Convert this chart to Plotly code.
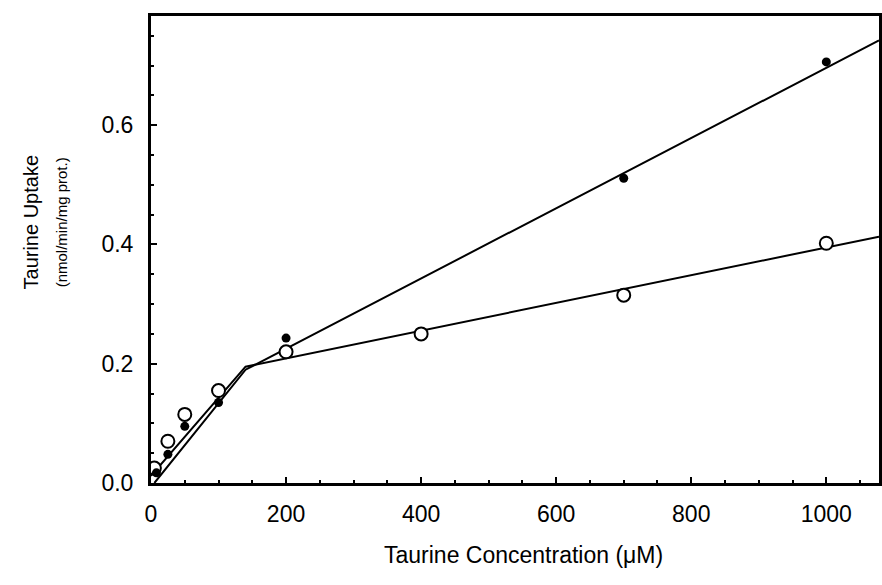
import plotly.graph_objects as go

# Data
open_x = [5, 25, 50, 100, 200, 400, 700, 1000]
open_y = [0.025, 0.070, 0.115, 0.155, 0.220, 0.250, 0.315, 0.402]
closed_x = [8, 25, 50, 100, 200, 700, 1000]
closed_y = [0.017, 0.048, 0.095, 0.135, 0.243, 0.511, 0.706]

# fitted lines (breakpoint then linear)
fit_open_x = [0, 140, 1078]
fit_open_y = [0.012, 0.195, 0.413]
fit_closed_x = [5, 140, 1078]
fit_closed_y = [0.0, 0.190, 0.742]

x_ticks = [0, 200, 400, 600, 800, 1000]
y_ticks = [0.0, 0.2, 0.4, 0.6]
y_tick_text = ["0.0", "0.2", "0.4", "0.6"]

fig = go.Figure()
fig.add_trace(go.Scatter(x=fit_open_x, y=fit_open_y, mode="lines",
                         line=dict(color="black", width=2), hoverinfo="skip"))
fig.add_trace(go.Scatter(x=fit_closed_x, y=fit_closed_y, mode="lines",
                         line=dict(color="black", width=2), hoverinfo="skip"))
fig.add_trace(go.Scatter(x=open_x, y=open_y, mode="markers",
                         marker=dict(symbol="circle", size=13, color="white",
                                     line=dict(color="black", width=2))))
fig.add_trace(go.Scatter(x=closed_x, y=closed_y, mode="markers",
                         marker=dict(symbol="circle", size=9, color="black")))

fnt = "Liberation Sans, Arial, sans-serif"
fig.update_layout(
    width=882, height=585,
    margin=dict(l=151, r=0, t=16, b=102),
    paper_bgcolor="white", plot_bgcolor="white",
    showlegend=False,
    font=dict(family=fnt, color="black"),
    xaxis=dict(range=[0, 1078], tickvals=x_ticks, ticks="inside", ticklen=6,
               tickwidth=2, tickcolor="black", showgrid=False, zeroline=False,
               showline=True, linecolor="black", linewidth=3, mirror=True,
               tickfont=dict(size=23, family=fnt, color="black"), ticklabelstandoff=8,
               minor=dict(ticks="inside", ticklen=3, tickcolor="black", dtick=50)),
    yaxis=dict(range=[0, 0.783], tickvals=y_ticks, ticktext=y_tick_text,
               ticks="inside", ticklen=6, tickwidth=2, tickcolor="black",
               showgrid=False, zeroline=False, showline=True, linecolor="black",
               linewidth=3, mirror=True, tickfont=dict(size=23, family=fnt, color="black"),
               ticklabelstandoff=10,
               minor=dict(ticks="inside", ticklen=3, tickcolor="black", dtick=0.05)),
    annotations=[
        dict(text="Taurine Concentration (μM)", xref="paper", yref="paper",
             x=(525 - 151) / 731, y=-(555 - 483) / 467, xanchor="center",
             yanchor="middle", showarrow=False,
             font=dict(size=23, family=fnt, color="black")),
        dict(text="Taurine Uptake", xref="paper", yref="paper",
             x=-(151 - 31) / 731, y=(483 - 222) / 467, xanchor="center",
             yanchor="middle", showarrow=False, textangle=-90,
             font=dict(size=20, family=fnt, color="black")),
        dict(text="(nmol/min/mg prot.)", xref="paper", yref="paper",
             x=-(151 - 61) / 731, y=(483 - 222) / 467, xanchor="center",
             yanchor="middle", showarrow=False, textangle=-90,
             font=dict(size=15, family=fnt, color="black")),
    ],
)

fig.write_html("out.html")
